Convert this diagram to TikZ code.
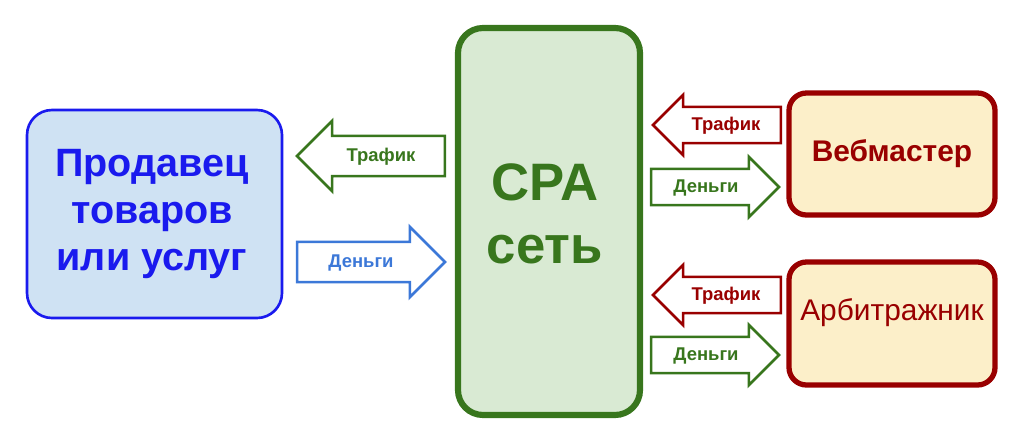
\documentclass[tikz,border=0pt]{standalone}
\usepackage{fontspec}
\setmainfont{Liberation Sans}
\usetikzlibrary{shapes.arrows}
\definecolor{sellerblue}{HTML}{1A1AEE}
\definecolor{moneyblue}{HTML}{3C78D8}
\definecolor{sellerfill}{HTML}{CFE2F3}
\definecolor{cpagreen}{HTML}{38761D}
\definecolor{cpafill}{HTML}{D9EAD3}
\definecolor{webred}{HTML}{990000}
\definecolor{webfill}{HTML}{FCEFC9}
\tikzset{
    flow/.style={single arrow, draw=#1, fill=white, line width=1.5pt, font=\bfseries\fontsize{10.5}{12}\selectfont,
        text=#1, text height=1.5ex, text depth=.4ex, inner xsep=2pt, align=center},
    bigflow/.style={minimum height=2.96cm, minimum width=1.4cm, inner ysep=0.2cm, single arrow head extend=0.3cm},
    smallflow/.style={minimum height=2.56cm, minimum width=1.2cm, inner ysep=0.16cm, single arrow head extend=0.24cm},
    toleft/.style={shape border rotate=180}
}
\begin{document}
\begin{tikzpicture}[x=0.02cm, y=-0.02cm]
    \useasboundingbox (0,0) rectangle (1024,443);

    % Blocks
    \draw[sellerblue, fill=sellerfill, line width=1.5pt, rounded corners=0.5cm] (27,110) rectangle (282,318);
    \node[sellerblue, font=\bfseries\fontsize{22.5}{27}\selectfont, align=center] (seller) at (152,214) {Продавец\\товаров\\или услуг};

    \draw[cpagreen, fill=cpafill, line width=3.5pt, rounded corners=0.5cm] (458,28) rectangle (640,415);
    \node[cpagreen, font=\bfseries\fontsize{30}{36}\selectfont, align=center] (cpa) at (545,214) {CPA\\сеть};

    \draw[webred, fill=webfill, line width=3pt, rounded corners=0.35cm] (789,93) rectangle (995,215);
    \node[webred, font=\bfseries\fontsize{17}{20}\selectfont] (webmaster) at (892,154) {Вебмастер};

    \draw[webred, fill=webfill, line width=3pt, rounded corners=0.35cm] (789,262) rectangle (995,385);
    \node[webred, font=\fontsize{17}{20}\selectfont] (arbitr) at (892,313) {Арбитражник};

    % Flows
    \node[flow=cpagreen, bigflow, toleft] (traffic1) at (381,156) {Трафик};
    \node[flow=moneyblue, bigflow] (money1) at (361,262) {Деньги};

    \node[flow=webred, smallflow, toleft] (traffic2) at (726,125) {Трафик};
    \node[flow=cpagreen, smallflow] (money2) at (706,187) {Деньги};

    \node[flow=webred, smallflow, toleft] (traffic3) at (726,295) {Трафик};
    \node[flow=cpagreen, smallflow] (money3) at (706,355) {Деньги};
\end{tikzpicture}
\end{document}
